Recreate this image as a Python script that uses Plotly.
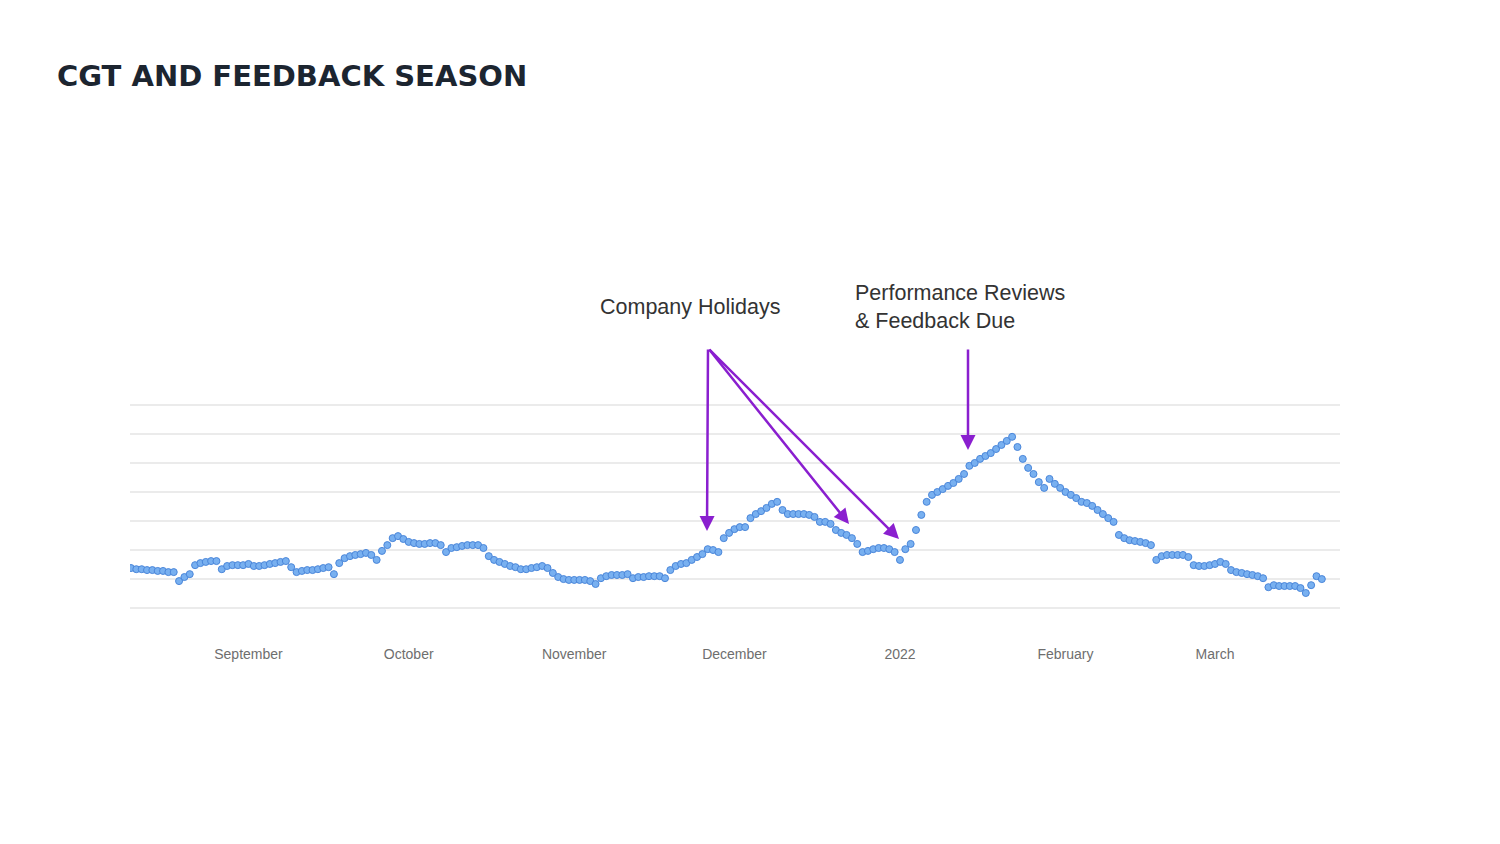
import pandas as pd
import plotly.graph_objects as go

# Daily interest index, Aug 10 2021 -> Mar 21 2022
aug_values = [13.8, 13.4, 13.4, 13.1, 13.1, 12.8, 12.8, 12.4, 12.4, 9.3, 10.7, 11.7,
              14.8, 15.5, 15.9, 16.2, 16.2, 13.4, 14.5, 14.8, 14.8, 14.8]
sep_values = [15.2, 14.5, 14.5, 14.8, 15.2, 15.5, 15.9, 16.2, 14.1, 12.4,
              12.8, 13.1, 13.1, 13.4, 13.8, 14.1, 11.7, 15.5, 17.2, 17.9,
              18.3, 18.6, 19.0, 18.3, 16.6, 19.7, 21.7, 24.1, 24.8, 23.8]
oct_values = [22.8, 22.4, 22.1, 22.1, 22.4, 22.4, 21.7, 19.3, 20.7, 21.0,
              21.4, 21.7, 21.7, 21.7, 20.7, 17.9, 16.6, 15.9, 15.2, 14.5,
              14.1, 13.4, 13.4, 13.8, 14.1, 14.5, 13.8, 12.1, 10.7, 10.0, 9.7]
nov_values = [9.7, 9.7, 9.7, 9.3, 8.3, 10.3, 11.0, 11.4, 11.4, 11.4,
              11.7, 10.3, 10.7, 10.7, 11.0, 11.0, 11.0, 10.3, 13.1, 14.5,
              15.2, 15.5, 16.6, 17.6, 18.6, 20.3, 20.0, 19.3, 24.1, 25.9]
dec_values = [27.2, 27.9, 27.9, 31.0, 32.4, 33.4, 34.5, 35.9, 36.6, 33.8,
              32.4, 32.4, 32.4, 32.4, 32.1, 31.4, 29.7, 29.7, 29.0, 26.9,
              25.9, 25.2, 24.1, 22.1, 19.3, 19.7, 20.3, 20.7, 20.7, 20.3, 19.3]
jan_values = [16.6, 20.3, 22.1, 26.9, 32.1, 36.6, 39.0, 40.0, 41.0, 42.1,
              43.1, 44.5, 46.2, 49.0, 50.0, 51.4, 52.4, 53.4, 54.8, 56.2,
              57.6, 59.0, 55.5, 51.4, 48.3, 46.2, 43.4, 41.4, 44.5, 42.8, 41.4]
feb_values = [40.0, 39.0, 37.9, 36.6, 36.2, 35.2, 33.8, 32.4, 31.0, 29.7,
              25.2, 24.1, 23.4, 23.1, 22.8, 22.4, 21.7, 16.6, 17.9, 18.3,
              18.3, 18.3, 18.3, 17.6, 14.8, 14.5, 14.5, 14.8]
mar_values = [15.2, 15.9, 15.2, 13.1, 12.4, 12.1, 11.7, 11.4, 11.0, 10.3,
              7.2, 7.9, 7.6, 7.6, 7.6, 7.6, 6.9, 5.2, 7.9, 11.0, 10.0]

start_date = "2021-08-10"
tick_dates = ["2021-09-01", "2021-10-01", "2021-11-01", "2021-12-01",
              "2022-01-01", "2022-02-01", "2022-03-01"]
tick_labels = ["September", "October", "November", "December", "2022", "February", "March"]

values = aug_values + sep_values + oct_values + nov_values + dec_values + jan_values + feb_values + mar_values
dates = pd.date_range(start_date, periods=len(values), freq="D")

fig = go.Figure()
fig.add_trace(go.Scatter(
    x=dates, y=values, mode="markers",
    marker=dict(size=7, color="#78b0f0", line=dict(color="#4a86da", width=1)),
    hoverinfo="x+y", showlegend=False,
))

W0, W1 = 130, 1340        # plot area left/right in px
PLOT_W = W1 - W0
Y0 = 608                  # baseline px
PX_PER_UNIT = 2.9

def px_to_paper(px, py):
    return (px - W0) / PLOT_W, (Y0 - py) / (PX_PER_UNIT * 72) + 1 / 72

arrow_color = "#8a1fcf"
tail = (708, 348)
heads = [(707, 531), (849, 524), (899, 539)]
for hx, hy in heads:
    xp, yp = px_to_paper(hx, hy)
    fig.add_annotation(x=xp, y=yp, xref="paper", yref="paper",
                       ax=tail[0] - hx, ay=tail[1] - hy,
                       showarrow=True, arrowhead=2, arrowsize=1.2, arrowwidth=2.5,
                       arrowcolor=arrow_color, text="")
xp, yp = px_to_paper(968, 450)
fig.add_annotation(x=xp, y=yp, xref="paper", yref="paper", ax=0, ay=348 - 450,
                   showarrow=True, arrowhead=2, arrowsize=1.2, arrowwidth=2.5,
                   arrowcolor=arrow_color, text="")

ann_font = dict(family="Liberation Sans, Arial, sans-serif", size=21.5, color="#333333")
xp, yp = px_to_paper(690, 307)
fig.add_annotation(x=xp, y=yp, xref="paper", yref="paper", showarrow=False,
                   text="Company Holidays", xanchor="center", yanchor="middle", font=ann_font)
xp, yp = px_to_paper(853, 307)
fig.add_annotation(x=xp, y=yp, xref="paper", yref="paper", showarrow=False,
                   text="Performance Reviews<br>& Feedback Due", xanchor="left", yanchor="middle",
                   align="left", font=ann_font)

fig.update_layout(
    width=1500, height=844,
    paper_bgcolor="white", plot_bgcolor="white",
    margin=dict(l=W0, r=1500 - W1, t=402, b=233, pad=0),
    title=dict(text="<b>CGT AND FEEDBACK SEASON</b>", x=57 / 1500, xanchor="left",
               y=1 - 76 / 844, yanchor="middle", xref="container", yref="container",
               font=dict(family="DejaVu Sans, sans-serif", size=29, color="#1c2530")),
    xaxis=dict(range=["2021-08-09 19:30", "2022-03-24 09:40"],
               tickvals=tick_dates, ticktext=tick_labels,
               showgrid=False, zeroline=False, showline=False, ticks="",
               ticklabelstandoff=33,
               tickfont=dict(family="Liberation Sans, Arial, sans-serif", size=14, color="#6e6e6e")),
    yaxis=dict(range=[-1, 71], dtick=10, tick0=0, showticklabels=False,
               showgrid=True, gridcolor="#ebebeb", gridwidth=1.5, zeroline=False, showline=False),
)

fig.write_html("out.html")
